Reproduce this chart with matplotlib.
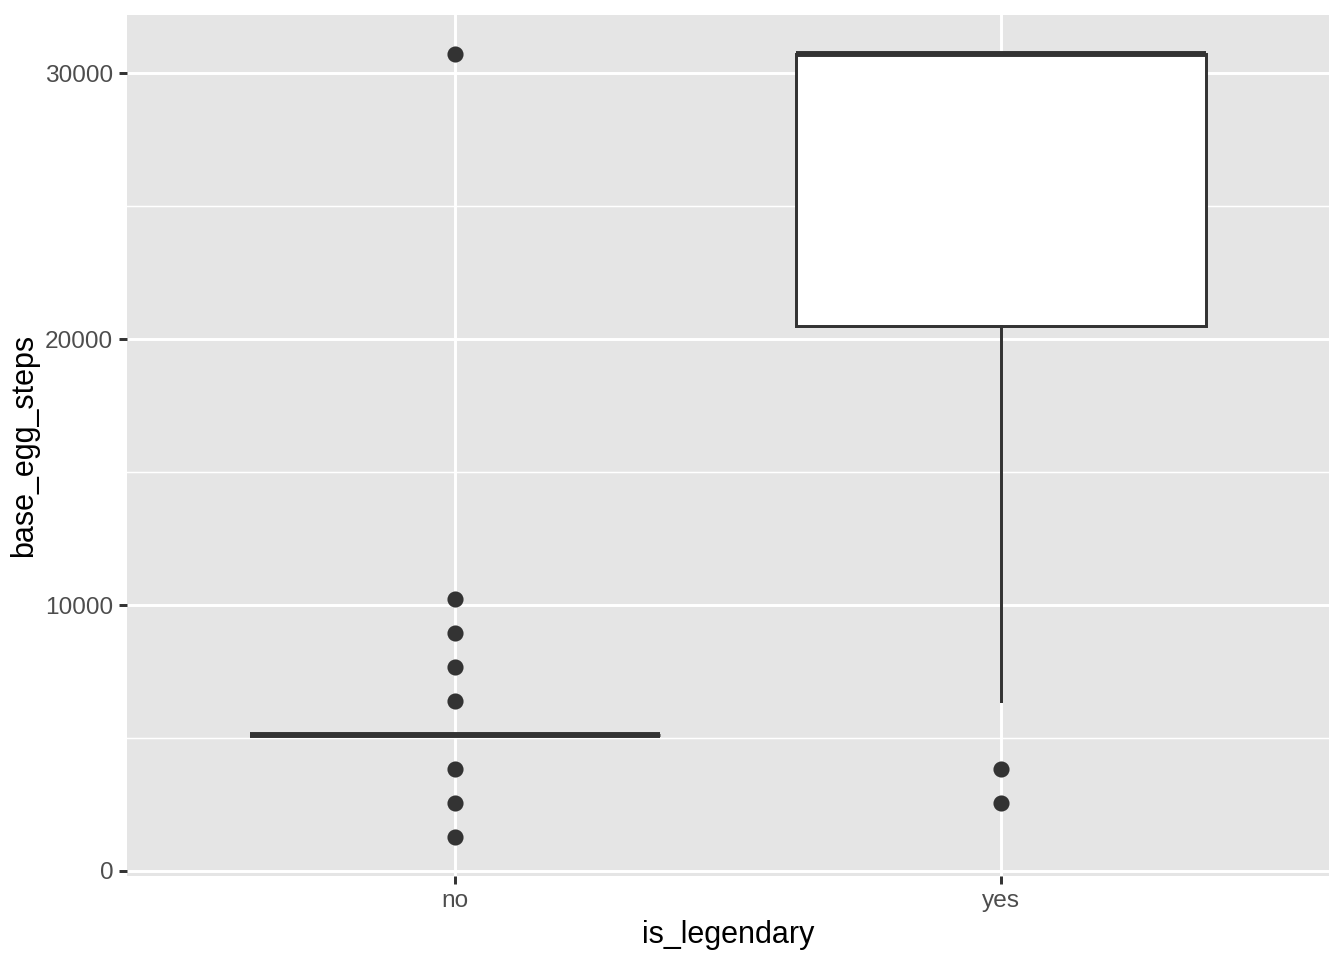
import matplotlib
matplotlib.use("Agg")
import matplotlib.pyplot as plt
from matplotlib.ticker import MultipleLocator

plt.rcParams['font.family'] = ['Liberation Sans', 'DejaVu Sans']

categories = ["no", "yes"]
q1 = [5120, 20480]
median = [5120, 30720]
q3 = [5120, 30720]
whisker_lo = [5120, 6400]
whisker_hi = [5120, 30720]
outliers = [
  [1280, 2560, 3840, 6400, 7680, 8960, 10240, 30720],
  [2560, 3840],
]

stats = []
for i, cat in enumerate(categories):
  stats.append(dict(label=cat, med=median[i], q1=q1[i], q3=q3[i],
                    whislo=whisker_lo[i], whishi=whisker_hi[i], fliers=outliers[i]))

fig = plt.figure(figsize=(6.72, 4.8), dpi=200)
ax = fig.add_axes([127/1344, 84/960, 1202/1344, 861/960])
ax.set_facecolor("#E5E5E5")

edge = "#333333"
ax.bxp(stats, positions=[1, 2], widths=0.75, showcaps=False, patch_artist=True,
       boxprops=dict(facecolor="white", edgecolor=edge, linewidth=1.07),
       whiskerprops=dict(color=edge, linewidth=1.07),
       medianprops=dict(color=edge, linewidth=2.13, solid_capstyle="butt"),
       flierprops=dict(marker="o", markerfacecolor=edge, markeredgecolor=edge,
                       markersize=4.8, linestyle="none"),
       zorder=3)

all_vals = [v for o in outliers for v in o] + whisker_hi + whisker_lo
lo, hi = min(all_vals), max(all_vals)
pad = (hi - lo) * 0.05
ax.set_ylim(lo - pad, hi + pad)
ax.set_xlim(0.4, 2.6)

ax.yaxis.set_major_locator(MultipleLocator(10000))
ax.yaxis.set_minor_locator(MultipleLocator(5000))
ax.set_xticks([1, 2])
ax.set_xticklabels(categories)

ax.grid(which="major", color="white", linewidth=1.07, zorder=0)
ax.grid(which="minor", axis="y", color="white", linewidth=0.53, zorder=0)
ax.set_axisbelow(True)
for s in ax.spines.values():
  s.set_visible(False)

ax.tick_params(which="major", length=2.75, width=1.07, color=edge,
               labelsize=8.8, labelcolor="#4D4D4D", pad=2.2)
ax.tick_params(which="minor", length=0)

ax.set_xlabel("is_legendary", fontsize=11, labelpad=3)
ax.set_ylabel("base_egg_steps", fontsize=11, labelpad=2)

fig.savefig("out.png", dpi=200)
